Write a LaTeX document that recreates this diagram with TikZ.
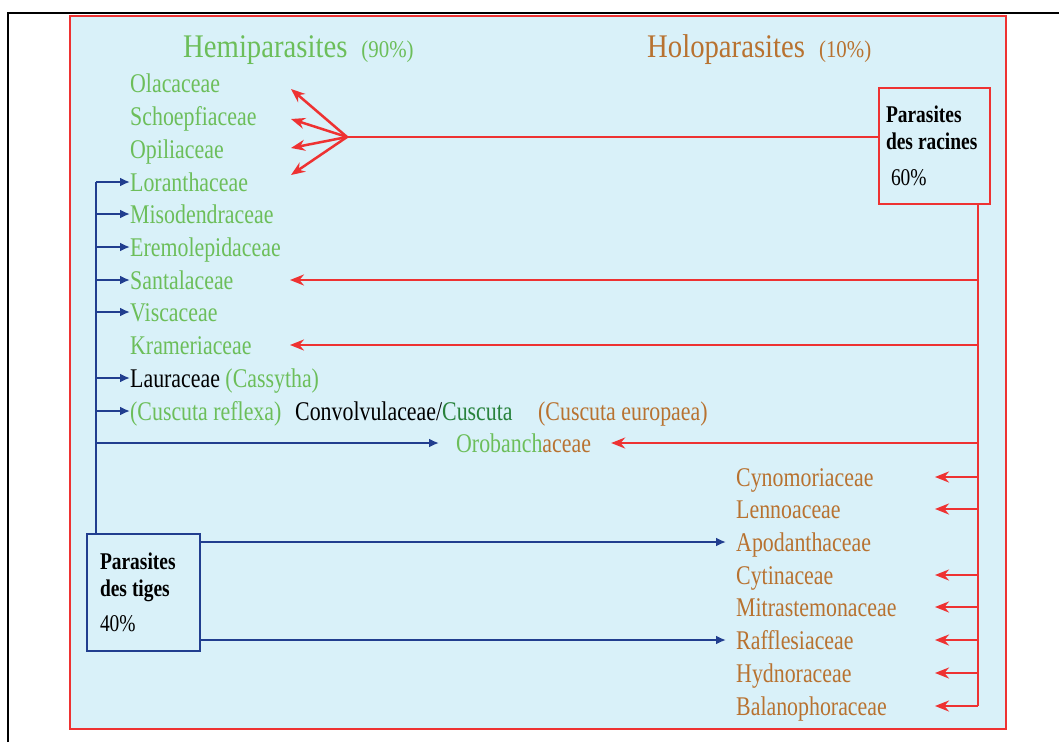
\documentclass[tikz,border=0pt]{standalone}
\usepackage{fontspec}
\setmainfont{Liberation Serif}[FakeStretch=0.81]
\newfontfamily\titlefont{Liberation Serif}[FakeStretch=0.87]
\usetikzlibrary{arrows.meta}

\definecolor{hemigreen}{RGB}{108,190,90}
\definecolor{holobrown}{RGB}{184,114,48}
\definecolor{cuscgreen}{RGB}{40,130,60}
\definecolor{stemblue}{RGB}{33,62,143}
\definecolor{rootred}{RGB}{238,50,50}
\definecolor{panelblue}{RGB}{217,241,249}

\tikzset{
  fam/.style={anchor=west, inner sep=0pt, font=\fontsize{27}{27}\selectfont,
    text height=20pt, text depth=1pt},
  hemi/.style={fam, text=hemigreen},
  holo/.style={fam, text=holobrown},
  title/.style={anchor=base west, inner sep=0pt, font=\titlefont\fontsize{33}{33}\selectfont},
  redline/.style={draw=rootred, line width=2.5pt},
  blueline/.style={draw=stemblue, line width=2.5pt},
  redarr/.style={redline, -{Stealth[length=14pt,width=11pt]}},
  bluearr/.style={blueline, -{Latex[length=10pt,width=9pt]}},
  boxtext/.style={align=left, font=\fontsize{24}{27}\selectfont, fill=panelblue,
    line width=2.5pt},
}

\begin{document}
\begin{tikzpicture}[x=1pt,y=-1pt]
  \useasboundingbox (0,0) rectangle (1059,742);
  % frame and panel
  \draw[line width=2.5pt] (8,742) -- (8,13) -- (1059,13);
  \draw[draw=rootred, fill=panelblue, line width=2.5pt] (70,16) rectangle (1006,729);

  % titles
  \node[title, text=hemigreen] (hemititle) at (183,57)
    {Hemiparasites\hspace{14pt}{\fontsize{24}{24}\selectfont(90\%)}};
  \node[title, text=holobrown] (holotitle) at (647,57)
    {Holoparasites\hspace{14pt}{\fontsize{24}{24}\selectfont(10\%)}};

  % hemiparasites
  \node[hemi] (ola)   at (130,83)  {Olacaceae};
  \node[hemi] (scho)  at (130,116) {Schoepfiaceae};
  \node[hemi] (opil)  at (130,149) {Opiliaceae};
  \node[hemi] (lora)  at (130,182) {Loranthaceae};
  \node[hemi] (miso)  at (130,214) {Misodendraceae};
  \node[hemi] (erem)  at (130,247) {Eremolepidaceae};
  \node[hemi] (santa) at (130,280) {Santalaceae};
  \node[hemi] (visc)  at (130,312) {Viscaceae};
  \node[hemi] (kram)  at (130,345) {Krameriaceae};
  \node[fam]  (laur)  at (130,378) {Lauraceae \textcolor{hemigreen}{(Cassytha)}};
  \node[hemi] (cusr)  at (130,411) {(Cuscuta reflexa)};
  \node[fam]  (conv)  at (295,411) {Convolvulaceae/\textcolor{cuscgreen}{Cuscuta}};
  \node[holo] (cuse)  at (538,411) {(Cuscuta europaea)};
  \node[hemi] (orob)  at (456,443) {Orobanch\textcolor{holobrown}{aceae}};

  % holoparasites
  \node[holo] (cyno) at (736,477) {Cynomoriaceae};
  \node[holo] (lenn) at (736,509) {Lennoaceae};
  \node[holo] (apod) at (736,542) {Apodanthaceae};
  \node[holo] (cyti) at (736,575) {Cytinaceae};
  \node[holo] (mitr) at (736,607) {Mitrastemonaceae};
  \node[holo] (raff) at (736,640) {Rafflesiaceae};
  \node[holo] (hydn) at (736,673) {Hydnoraceae};
  \node[holo] (bala) at (736,706) {Balanophoraceae};

  % the two boxes
  \node[boxtext, draw=rootred, minimum width=111pt, minimum height=116pt,
    inner xsep=7pt, text width=97pt] (racines) at (934.5,146)
    {\textbf{Parasites}\\\textbf{des\hspace{5pt}racines}\\[9pt]\hspace{5pt}60\%};
  \node[boxtext, draw=stemblue, minimum width=113pt, minimum height=117pt,
    inner xsep=13pt, text width=87pt] (tiges) at (143.5,592.5)
    {\textbf{Parasites}\\\textbf{des\hspace{5pt}tiges}\\[8pt]40\%};

  % root parasites (red)
  \coordinate (fan) at (347,137);
  \coordinate (f1) at (291,89);
  \coordinate (f2) at (291,119);
  \coordinate (f3) at (291,148);
  \coordinate (f4) at (291,175);
  \coordinate (redtrunk) at (978,204);
  \coordinate (hemitip) at (290,280);
  \coordinate (holotip) at (935,477);
  \draw[redline] (racines.west |- fan) -- (fan);
  \foreach \t in {f1,f2,f3,f4}
    \draw[redarr] (fan) -- (\t);
  \draw[redline] (racines.south -| redtrunk) -- (redtrunk |- bala.west);
  \draw[redarr] (redtrunk |- santa.west) -- (hemitip |- santa.west);
  \draw[redarr] (redtrunk |- kram.west) -- (hemitip |- kram.west);
  \draw[redarr] (redtrunk |- orob.west) -- ([xshift=20pt]orob.east);
  \foreach \n in {cyno,lenn,cyti,mitr,raff,hydn,bala}
    \draw[redarr] (redtrunk |- \n.west) -- (holotip |- \n.west);

  % stem parasites (blue)
  \coordinate (bluetrunk) at (96,182);
  \draw[blueline] (tiges.north -| bluetrunk) -- (bluetrunk |- lora.west);
  \foreach \n in {lora,miso,erem,santa,visc,laur,cusr}
    \draw[bluearr] (bluetrunk |- \n.west) -- (\n.west);
  \draw[bluearr] (bluetrunk |- orob.west) -- ([xshift=-17pt]orob.west);
  \draw[bluearr] (tiges.east |- apod.west) -- ([xshift=-10pt]apod.west);
  \draw[bluearr] (tiges.east |- raff.west) -- ([xshift=-10pt]raff.west);
\end{tikzpicture}
\end{document}
